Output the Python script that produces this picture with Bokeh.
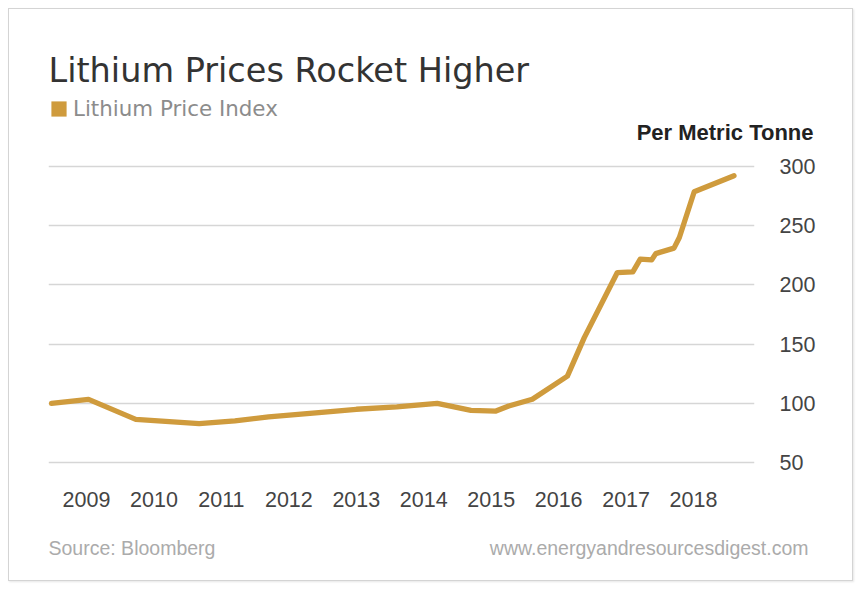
from bokeh.plotting import figure
from bokeh.layouts import column
from bokeh.models import (ColumnDataSource, FixedTicker, Label, Legend, LegendItem,
                          Range1d, BasicTickFormatter)
from bokeh.embed import file_html
from bokeh.resources import INLINE

# ---- data ----
dates = [2008.48, 2009.03, 2009.73, 2010.67, 2011.20, 2011.70, 2012.40, 2013.00,
         2013.60, 2014.20, 2014.70, 2015.07, 2015.26, 2015.61, 2016.13, 2016.38,
         2016.87, 2017.10, 2017.21, 2017.38, 2017.44, 2017.71, 2017.79, 2018.01,
         2018.60]
price_index = [100.0, 103.4, 86.5, 82.8, 85.2, 88.5, 92.0, 95.0,
               97.0, 100.0, 94.1, 93.5, 97.7, 103.4, 123.0, 155.5,
               210.4, 211.0, 221.7, 221.1, 226.4, 231.0, 240.0, 278.6,
               292.1]
year_ticks = [2009, 2010, 2011, 2012, 2013, 2014, 2015, 2016, 2017, 2018]
value_ticks = [50, 100, 150, 200, 250, 300]

title_text = "Lithium Prices Rocket Higher"
series_name = "Lithium Price Index"
unit_text = "Per Metric Tonne"
source_text = "Source: Bloomberg"
site_text = "www.energyandresourcesdigest.com"

GOLD = "#CF9B3D"
SANS = "Liberation Sans"
W = 843

src = ColumnDataSource(data=dict(x=dates, y=price_index))


def blank(height):
    f = figure(width=W, height=height, output_backend="svg", toolbar_location=None,
               x_range=Range1d(0, W), y_range=Range1d(0, height),
               x_axis_type=None, y_axis_type=None,
               min_border=0, outline_line_color=None,
               background_fill_color="white", border_fill_color="white")
    f.xgrid.visible = False
    f.ygrid.visible = False
    return f


# ---------------- header ----------------
header = blank(141)
header.add_layout(Label(x=39, y=80, text=title_text,
                        text_font="DejaVu Sans", text_font_size="33.5px",
                        text_color="#333333", text_baseline="alphabetic"))
header.add_layout(Label(x=804, y=18.5, text=unit_text,
                        text_font=SANS, text_font_size="22px", text_font_style="bold",
                        text_color="#222222", text_align="right",
                        text_baseline="alphabetic"))
# hidden area renderer, only used to give the legend its square swatch
swatch = header.vbar(x="x", top="y", width=0.5, source=src, fill_color=GOLD,
                     line_color=None, visible=False)
legend = Legend(items=[LegendItem(label=series_name, renderers=[swatch])],
                location=(40, 29), orientation="vertical",
                glyph_width=19, glyph_height=19, label_standoff=5,
                label_text_font="DejaVu Sans", label_text_font_size="21.4px",
                label_text_color="#8c8c8c", label_height=19,
                padding=0, margin=0, spacing=0,
                inactive_fill_alpha=0.0,
                border_line_color=None, background_fill_alpha=0)
header.add_layout(legend, "center")

# ---------------- chart ----------------
p = figure(width=W, height=370, output_backend="svg", toolbar_location=None,
           x_range=Range1d(2008.436, 2018.904), y_range=Range1d(45, 305),
           y_axis_location="right",
           min_border_left=39, min_border_right=98, min_border_top=10,
           min_border_bottom=52,
           background_fill_color="white", border_fill_color="white",
           outline_line_color=None)

p.line("x", "y", source=src, line_color=GOLD, line_width=5.3,
       line_join="round", line_cap="round")

p.xgrid.visible = False
p.ygrid.ticker = FixedTicker(ticks=value_ticks)
p.ygrid.grid_line_color = "#d6d6d6"
p.ygrid.grid_line_width = 1.5

p.xaxis.ticker = FixedTicker(ticks=year_ticks)
p.xaxis.formatter = BasicTickFormatter(use_scientific=False)
p.xaxis.axis_line_color = None
p.xaxis.major_tick_line_color = None
p.xaxis.minor_tick_line_color = None
p.xaxis.major_label_standoff = 17
p.xaxis.major_label_text_font = SANS
p.xaxis.major_label_text_font_size = "21.5px"
p.xaxis.major_label_text_color = "#444444"

p.yaxis.ticker = FixedTicker(ticks=value_ticks)
p.yaxis.axis_line_color = None
p.yaxis.major_tick_line_color = None
p.yaxis.minor_tick_line_color = None
p.yaxis.major_label_standoff = 19
p.yaxis.major_label_text_font = SANS
p.yaxis.major_label_text_font_size = "21.5px"
p.yaxis.major_label_text_color = "#444444"

# ---------------- footer ----------------
footer = blank(60)
footer.add_layout(Label(x=39, y=33, text=source_text,
                        text_font=SANS, text_font_size="19.5px", text_color="#ababab",
                        text_baseline="alphabetic"))
footer.add_layout(Label(x=799, y=33, text=site_text,
                        text_font=SANS, text_font_size="19.5px", text_color="#ababab",
                        text_align="right", text_baseline="alphabetic"))

page = column(column(header), p, column(footer), spacing=0, margin=(8, 0, 0, 8),
              styles={"border": "1px solid #d4d4d4",
                      "box-shadow": "1px 1px 2px rgba(0,0,0,0.10)"})

open("out.html", "w").write(file_html(page, INLINE))
